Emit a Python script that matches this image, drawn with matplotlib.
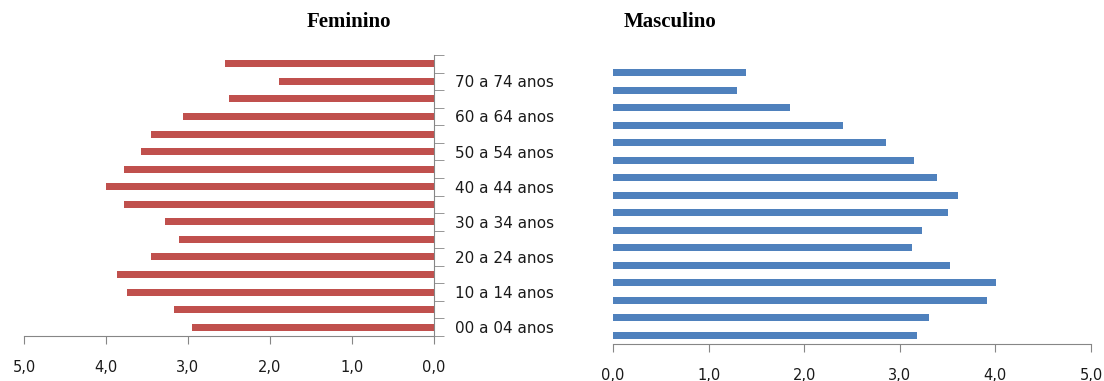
import numpy as np
import matplotlib
matplotlib.use('Agg')
import matplotlib.pyplot as plt

# -------------------- Data (% da população por faixa etária) --------------------
faixas = ['00 a 04 anos', '05 a 09 anos', '10 a 14 anos', '15 a 19 anos',
          '20 a 24 anos', '25 a 29 anos', '30 a 34 anos', '35 a 39 anos',
          '40 a 44 anos', '45 a 49 anos', '50 a 54 anos', '55 a 59 anos',
          '60 a 64 anos', '65 a 69 anos', '70 a 74 anos', '75 anos e mais']
feminino = [2.95, 3.17, 3.74, 3.86, 3.45, 3.11, 3.28, 3.78,
            4.00, 3.78, 3.57, 3.45, 3.06, 2.50, 1.89, 2.55]
masculino = [3.18, 3.31, 3.91, 4.01, 3.53, 3.13, 3.23, 3.50,
             3.61, 3.39, 3.15, 2.86, 2.41, 1.85, 1.30, 1.39]
x_ticks = [0, 1, 2, 3, 4, 5]
x_labels = ['0,0', '1,0', '2,0', '3,0', '4,0', '5,0']

# -------------------- Style --------------------
cor_fem = '#C0504D'
cor_masc = '#4F81BD'
cor_eixo = '#868686'
cor_texto = '#1a1a1a'
fonte = 'DejaVu Sans'
tam = 10.5

W, H = 1104, 381
fig = plt.figure(figsize=(W / 100, H / 100), dpi=100)

y = np.arange(len(faixas))

# -------------------- Feminino (left, reversed x) --------------------
ax_f = fig.add_axes([24 / W, (H - 336) / H, (434 - 24) / W, 281 / H])
ax_f.barh(y, feminino, height=0.4, color=cor_fem)
ax_f.set_xlim(5, 0)
ax_f.set_ylim(-0.5, len(faixas) - 0.5)

for s in ['top', 'left']:
    ax_f.spines[s].set_visible(False)
for s in ['right', 'bottom']:
    ax_f.spines[s].set_color(cor_eixo)

ax_f.yaxis.tick_right()
ax_f.set_yticks(y[::2])
ax_f.set_yticklabels(faixas[::2], fontsize=11, family=fonte, color=cor_texto)
ax_f.set_yticks(np.arange(-0.5, len(faixas)), minor=True)
ax_f.tick_params(axis='y', which='major', length=0, pad=15)
ax_f.tick_params(axis='y', which='minor', length=7, color=cor_eixo, direction='out')

ax_f.set_xticks(x_ticks)
ax_f.set_xticklabels(x_labels, fontsize=tam, family=fonte, color=cor_texto)
ax_f.tick_params(axis='x', length=6, color=cor_eixo, pad=11)

fig.text(349 / W, 1 - 22 / H, 'Feminino', ha='center', va='center',
         fontsize=15, fontweight='bold', family='Liberation Serif')

# -------------------- Masculino (right) --------------------
ax_m = fig.add_axes([613 / W, (H - 344) / H, (1091 - 613) / W, 280 / H])
ax_m.barh(y, masculino, height=0.4, color=cor_masc)
ax_m.set_xlim(0, 5)
ax_m.set_ylim(-0.5, len(faixas) - 0.5)

for s in ['top', 'left', 'right']:
    ax_m.spines[s].set_visible(False)
ax_m.spines['bottom'].set_color(cor_eixo)
ax_m.set_yticks([])

ax_m.set_xticks(x_ticks)
ax_m.set_xticklabels(x_labels, fontsize=tam, family=fonte, color=cor_texto)
ax_m.tick_params(axis='x', length=6, color=cor_eixo, pad=11)

fig.text(670 / W, 1 - 22 / H, 'Masculino', ha='center', va='center',
         fontsize=15, fontweight='bold', family='Liberation Serif')

fig.savefig('out.png', dpi=100)
